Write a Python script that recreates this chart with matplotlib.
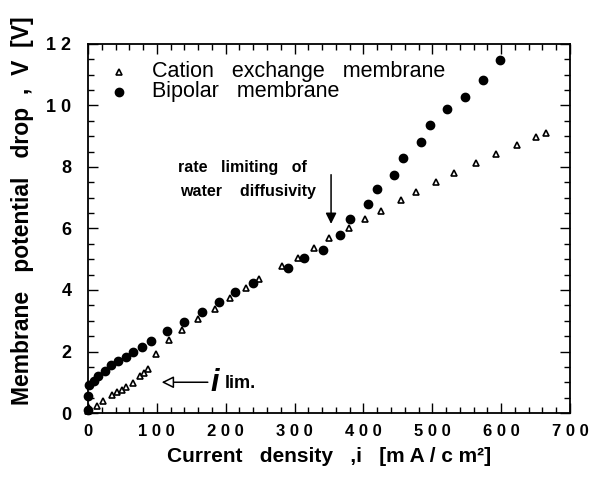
import matplotlib
matplotlib.use("Agg")
import matplotlib.pyplot as plt
from matplotlib.ticker import MultipleLocator, FixedLocator, FixedFormatter

plt.rcParams['font.family'] = ['Liberation Sans', 'DejaVu Sans']

# Cation exchange membrane (open triangles)
cat_x = [0, 1, 13, 22, 35, 42, 49, 55, 66, 75, 81, 87, 99, 118, 136, 160, 184,
         206, 229, 249, 282, 305, 328, 350, 379, 403, 426, 454, 477, 505, 532,
         563, 592, 623, 650, 665]
cat_y = [0.05, 0.15, 0.22, 0.38, 0.59, 0.67, 0.76, 0.83, 0.99, 1.20, 1.30, 1.42,
         1.92, 2.37, 2.70, 3.05, 3.37, 3.73, 4.08, 4.36, 4.78, 5.03, 5.38, 5.69,
         6.02, 6.32, 6.57, 6.94, 7.20, 7.52, 7.81, 8.14, 8.41, 8.73, 8.99, 9.10]

# Bipolar membrane (filled circles)
bip_x = [0, 0, 2, 8, 15, 24, 34, 44, 55, 66, 79, 91, 115, 139, 165, 190, 214,
         239, 290, 314, 341, 366, 380, 406, 419, 445, 457, 483, 497, 522, 547,
         574, 599]
bip_y = [0.10, 0.56, 0.90, 1.05, 1.21, 1.38, 1.56, 1.70, 1.83, 1.97, 2.16, 2.35,
         2.67, 2.97, 3.30, 3.60, 3.95, 4.22, 4.70, 5.03, 5.30, 5.80, 6.32, 6.80,
         7.27, 7.74, 8.29, 8.82, 9.38, 9.88, 10.28, 10.83, 11.48]

x_ticks = [0, 100, 200, 300, 400, 500, 600, 700]
x_ticklabels = ['0', '1 0 0', '2 0 0', '3 0 0', '4 0 0', '5 0 0', '6 0 0', '7 0 0']
y_ticks = [0, 2, 4, 6, 8, 10, 12]
y_ticklabels = ['0', '2', '4', '6', '8', '1 0', '1 2']

fig = plt.figure(figsize=(5.93, 4.86), dpi=100)
ax = fig.add_axes([88/593, 1-413/486, (570-88)/593, (413-44)/486])

ax.plot(cat_x, cat_y, linestyle='none', marker='^', markersize=5,
        markerfacecolor='white', markeredgecolor='black', markeredgewidth=1.2,
        clip_on=False, zorder=3)
ax.plot(bip_x, bip_y, linestyle='none', marker='o', markersize=6,
        markerfacecolor='black', markeredgecolor='black',
        clip_on=False, zorder=4)

ax.set_xlim(0, 700)
ax.set_ylim(0, 12)
ax.xaxis.set_major_locator(FixedLocator(x_ticks))
ax.xaxis.set_major_formatter(FixedFormatter(x_ticklabels))
ax.yaxis.set_major_locator(FixedLocator(y_ticks))
ax.yaxis.set_major_formatter(FixedFormatter(y_ticklabels))
ax.xaxis.set_minor_locator(MultipleLocator(20))
ax.yaxis.set_minor_locator(MultipleLocator(0.5))
ax.tick_params(which='both', direction='in', top=True, right=True,
               width=1.0, colors='black')
ax.tick_params(which='major', length=7)
ax.tick_params(which='minor', length=4)
ax.tick_params(axis='x', which='major', labelsize=12, pad=8)
ax.tick_params(axis='y', which='major', labelsize=13, pad=12)
for lab in ax.get_xticklabels() + ax.get_yticklabels():
    lab.set_fontweight('bold')
for s in ax.spines.values():
    s.set_linewidth(1.3)

ax.set_xlabel('Current   density   ,i   [m A / c m\u00b2]', fontsize=15,
              fontweight='bold', labelpad=6)
ax.set_ylabel('Membrane   potential   drop  ,  V  [V]', fontsize=16.5,
              fontweight='bold')
ax.yaxis.set_label_coords(-0.112, 0.547)

# Legend drawn as markers + text
ax.plot([45], [11.09], linestyle='none', marker='^', markersize=4,
        markerfacecolor='white', markeredgecolor='black', markeredgewidth=1.2)
ax.plot([45], [10.44], linestyle='none', marker='o', markersize=6,
        color='black')
ax.text(93, 11.09, 'Cation   exchange   membrane', fontsize=15.5, va='center',
        ha='left')
ax.text(93, 10.44, 'Bipolar   membrane', fontsize=15.5, va='center', ha='left')

# annotation: rate limiting
ax.text(224, 7.97, 'rate   limiting   of', fontsize=11.5, fontweight='bold',
        ha='center', va='center')
ax.text(232, 7.19, 'water    diffusivity', fontsize=11.5, fontweight='bold',
        ha='center', va='center')
ax.annotate('', xy=(353, 6.15), xytext=(353, 7.75),
            arrowprops=dict(arrowstyle='-|>', ec='black', fc='black', lw=1.1,
                            mutation_scale=16, shrinkA=0, shrinkB=0))

# annotation: i_lim
ax.annotate('', xy=(107, 1.0), xytext=(174, 1.0),
            arrowprops=dict(arrowstyle='-|>', ec='black', fc='white', lw=1.1,
                            mutation_scale=18, shrinkA=0, shrinkB=0))
ax.text(178, 0.98, 'i', fontsize=22, fontweight='bold', fontstyle='italic',
        ha='left', va='center')
ax.text(199, 0.95, 'lim.', fontsize=13, fontweight='bold', ha='left',
        va='center')

fig.savefig('out.png', dpi=100)
